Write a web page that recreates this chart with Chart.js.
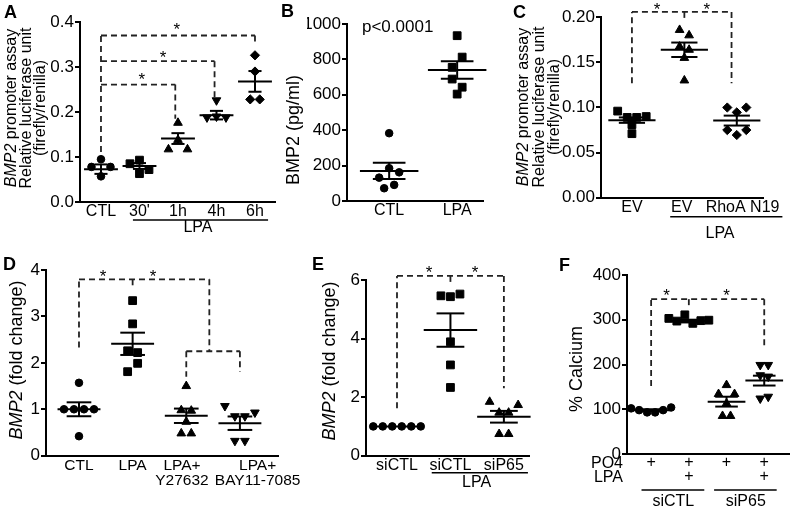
<!DOCTYPE html>
<html lang="en">
<head>
  <meta charset="UTF-8" />
  <title>LPA induces BMP2</title>
  <script src="https://cdn.jsdelivr.net/npm/chart.js"></script>
  <style>
    body { margin: 0; background: #fff; }
    #fig { position: relative; width: 796px; height: 510px; }
    #fig canvas { position: absolute; left: 0; top: 0; }
  </style>
</head>
<body>
  <div id="fig">
    <canvas id="panelA" width="796" height="510"></canvas>
    <canvas id="panelB" width="796" height="510"></canvas>
    <canvas id="panelC" width="796" height="510"></canvas>
    <canvas id="panelD" width="796" height="510"></canvas>
    <canvas id="panelE" width="796" height="510"></canvas>
    <canvas id="panelF" width="796" height="510"></canvas>
  </div>

  <script>
    const FONT = "'Liberation Sans', Arial, Helvetica, sans-serif";

    // A - BMP2 promoter assay, LPA time course
    const aLabels = ['CTL', "30'", '1h', '4h', '6h'];
    const aValues = [
      [0.078, 0.095, 0.078, 0.057],
      [0.085, 0.093, 0.072, 0.063],
      [0.176, 0.117, 0.138, 0.117],
      [0.226, 0.188, 0.190, 0.188],
      [0.326, 0.290, 0.228, 0.228]
    ];
    const aMean = [0.073, 0.080, 0.141, 0.193, 0.268];
    const aSem = [0.0105, 0.0065, 0.012, 0.0095, 0.023];
    const aTicks = [0, 0.1, 0.2, 0.3, 0.4];

    // B - secreted BMP2
    const bLabels = ['CTL', 'LPA'];
    const bValues = [
      [383, 132, 185, 162, 72, 91],
      [934, 755, 813, 689, 643, 604]
    ];
    const bMean = [170, 740];
    const bSem = [46, 50];
    const bTicks = [0, 200, 400, 600, 800, 1000];

    // C - promoter assay with RhoA N19
    const cLabels = ['EV', 'EV', 'RhoA N19'];
    const cValues = [
      [0.096, 0.089, 0.089, 0.090, 0.081, 0.071],
      [0.186, 0.180, 0.1675, 0.164, 0.155, 0.130],
      [0.100, 0.0946, 0.100, 0.075, 0.0695, 0.075]
    ];
    const cMean = [0.086, 0.164, 0.0855];
    const cSem = [0.003, 0.008, 0.0055];
    const cTicks = [0, 0.05, 0.10, 0.15, 0.20];

    // D - BMP2 mRNA with inhibitors
    const dLabels = ['CTL', 'LPA', ['LPA+', 'Y27632'], ['LPA+', 'BAY11-7085']];
    const dValues = [
      [1.57, 1.0, 1.0, 1.0, 1.0, 0.42],
      [3.34, 2.84, 2.26, 2.22, 1.81, 1.99],
      [1.50, 0.98, 0.73, 0.97, 0.48, 0.48],
      [1.07, 0.85, 0.85, 0.93, 0.32, 0.32]
    ];
    const dMean = [1.0, 2.41, 0.86, 0.70];
    const dSem = [0.15, 0.24, 0.155, 0.145];
    const dTicks = [0, 1, 2, 3, 4];

    // E - BMP2 mRNA with siP65
    const eLabels = ['siCTL', 'siCTL', 'siP65'];
    const eValues = [
      [1.0, 1.0, 1.0, 1.0, 1.0, 1.0],
      [5.46, 5.43, 5.52, 3.89, 3.10, 2.33],
      [1.84, 1.47, 1.47, 1.73, 0.74, 0.74]
    ];
    const eMean = [1.0, 4.29, 1.33];
    const eSem = [0, 0.57, 0.2];
    const eTicks = [0, 2, 4, 6];

    // F - calcium deposition
    const fLabels = [['+', ''], ['+', '+'], ['+', ''], ['+', '+']];
    const fValues = [
      [102, 98, 93, 93, 98, 104],
      [303, 297, 311, 292, 298, 299],
      [134, 154, 134, 113, 85, 85],
      [199, 199, 176, 173, 124, 128]
    ];
    const fMean = [98, 297, 117, 164];
    const fSem = [2, 3, 11, 11];
    const fTicks = [0, 100, 200, 300, 400];

    const MARKS = {
      circle: { pointStyle: 'circle', radius: 3.8, rotation: 0 },
      square: { pointStyle: 'rect', radius: 5.5, rotation: 0 },
      up: { pointStyle: 'triangle', radius: 5, rotation: 0 },
      down: { pointStyle: 'triangle', radius: 5, rotation: 180 },
      diamond: { pointStyle: 'rectRot', radius: 4.6, rotation: 0 }
    };

    function drawTitle(ctx, t) {
      t.lines.forEach((parts, li) => {
        ctx.save();
        ctx.translate(t.x[li], t.y);
        ctx.rotate(-Math.PI / 2);
        ctx.textBaseline = 'middle';
        ctx.textAlign = 'left';
        ctx.fillStyle = '#000';
        const fonts = parts.map(p => (p[1] ? 'italic ' : '') + t.size + 'px ' + FONT);
        let w = 0;
        parts.forEach((p, i) => { ctx.font = fonts[i]; w += ctx.measureText(p[0]).width; });
        let x = -w / 2;
        parts.forEach((p, i) => {
          ctx.font = fonts[i];
          ctx.fillText(p[0], x, 0);
          x += ctx.measureText(p[0]).width;
        });
        ctx.restore();
      });
    }

    function decor(cfg) {
      return {
        id: 'decor',
        afterDraw(chart) {
          const ctx = chart.ctx;
          const xs = chart.scales.x, ys = chart.scales.y;
          const X = v => xs.getPixelForValue(v);
          const Y = v => ys.getPixelForValue(v);
          const seg = (x1, y1, x2, y2) => {
            ctx.beginPath(); ctx.moveTo(x1, y1); ctx.lineTo(x2, y2); ctx.stroke();
          };
          ctx.save();

          // mean +/- SEM
          ctx.strokeStyle = '#000';
          ctx.lineWidth = 2;
          cfg.mean.forEach((m, i) => {
            const c = i + 1, s = cfg.sem[i];
            seg(X(c - cfg.meanHalf), Y(m), X(c + cfg.meanHalf), Y(m));
            if (s > 0) {
              seg(X(c - cfg.semHalf), Y(m + s), X(c + cfg.semHalf), Y(m + s));
              seg(X(c - cfg.semHalf), Y(m - s), X(c + cfg.semHalf), Y(m - s));
              seg(X(c), Y(m + s), X(c), Y(m - s));
            }
          });

          // significance brackets
          ctx.lineWidth = 1.8;
          ctx.strokeStyle = '#222';
          ctx.setLineDash([6, 4]);
          (cfg.brackets || []).forEach(b => seg(X(b[0]), Y(b[1]), X(b[2]), Y(b[3])));
          ctx.setLineDash([]);

          ctx.fillStyle = '#000';
          ctx.font = '17px ' + FONT;
          ctx.textAlign = 'center';
          ctx.textBaseline = 'alphabetic';
          (cfg.stars || []).forEach(s => ctx.fillText('*', X(s[0]), Y(s[1]) + 9.8));

          // group underlines under the category labels
          ctx.font = '16px ' + FONT;
          ctx.textBaseline = 'middle';
          ctx.lineWidth = 1.5;
          ctx.strokeStyle = '#000';
          (cfg.groups || []).forEach(g => {
            seg(X(g.from), ys.bottom + g.dy, X(g.to), ys.bottom + g.dy);
            ctx.fillText(g.label, X(g.at), ys.bottom + g.labelDy);
          });

          ctx.textAlign = 'right';
          (cfg.rowLabels || []).forEach(r => ctx.fillText(r.t, xs.left - 4, ys.bottom + r.dy));

          ctx.textAlign = 'left';
          ctx.font = '17px ' + FONT;
          (cfg.texts || []).forEach(t => ctx.fillText(t.t, X(t.x), Y(t.y)));

          drawTitle(ctx, cfg.title);

          ctx.font = 'bold 18px ' + FONT;
          ctx.textAlign = 'left';
          ctx.textBaseline = 'alphabetic';
          ctx.fillText(cfg.letter[0], cfg.letter[1], cfg.letter[2]);
          ctx.restore();
        }
      };
    }

    // spread points that sit at nearly the same height side by side
    function swarm(chart, cfg) {
      const xs = chart.scales.x, ys = chart.scales.y;
      const unit = xs.getPixelForValue(2) - xs.getPixelForValue(1);
      chart.data.datasets.forEach((ds, gi) => {
        const vals = cfg.values[gi];
        const order = vals.map((v, i) => i).sort((a, b) => vals[b] - vals[a]);
        const rows = [];
        order.forEach(i => {
          const py = ys.getPixelForValue(vals[i]);
          const row = rows[rows.length - 1];
          if (row && py - row.top < cfg.gap) row.items.push(i);
          else rows.push({ top: py, items: [i] });
        });
        rows.forEach(r => {
          r.items.sort((a, b) => a - b);
          r.items.forEach((i, k) => {
            ds.data[i].x = gi + 1 + (k - (r.items.length - 1) / 2) * cfg.step / unit;
          });
        });
      });
      chart.update('none');
    }

    function makePanel(id, cfg) {
      const a = cfg.area;
      const chart = new Chart(document.getElementById(id), {
        type: 'scatter',
        data: {
          datasets: cfg.values.map((vals, gi) => {
            const mk = MARKS[cfg.marks[gi]];
            return {
              data: vals.map(v => ({ x: gi + 1, y: v })),
              pointStyle: mk.pointStyle,
              rotation: mk.rotation,
              pointRadius: mk.radius,
              backgroundColor: '#000',
              borderColor: '#000',
              borderWidth: 1
            };
          })
        },
        options: {
          responsive: false,
          animation: false,
          events: [],
          layout: {
            padding: { left: a.left - 40, right: 796 - a.right, top: a.top, bottom: 510 - a.bottom - 30 }
          },
          scales: {
            x: {
              type: 'linear',
              min: cfg.xMin,
              max: cfg.xMax,
              afterFit: s => { s.height = 30; },
              afterBuildTicks: s => {
                s.ticks = cfg.labels.map((l, i) => ({ value: i + 1 + (cfg.labelShift ? cfg.labelShift[i] : 0) }));
              },
              ticks: {
                autoSkip: false,
                maxRotation: 0,
                minRotation: 0,
                padding: cfg.xPad,
                color: '#000',
                font: { family: FONT, size: cfg.xSize || 16, lineHeight: cfg.xLine },
                callback: (v, i) => cfg.labels[i]
              },
              grid: { display: false, drawTicks: false },
              border: { display: true, color: '#000', width: 2 }
            },
            y: {
              min: cfg.yTicks[0],
              max: cfg.yTicks[cfg.yTicks.length - 1],
              afterFit: s => { s.width = 40; },
              afterBuildTicks: s => { s.ticks = cfg.yTicks.map(v => ({ value: v })); },
              ticks: {
                padding: 1,
                color: '#000',
                font: { family: FONT, size: 17 },
                callback: v => v.toFixed(cfg.dec)
              },
              grid: { display: true, drawOnChartArea: false, drawTicks: true, tickLength: 5, color: '#000', lineWidth: 2 },
              border: { display: true, color: '#000', width: 2 }
            }
          },
          plugins: { legend: { display: false }, tooltip: { enabled: false } }
        },
        plugins: [decor(cfg)]
      });
      swarm(chart, cfg);
      return chart;
    }

    makePanel('panelA', {
      labels: aLabels, values: aValues, mean: aMean, sem: aSem, yTicks: aTicks, dec: 1,
      marks: ['circle', 'square', 'up', 'down', 'diamond'],
      area: { left: 80, right: 275, top: 22, bottom: 202 },
      xMin: 0.455, xMax: 5.52, xPad: 2, xLine: 1.0,
      meanHalf: 0.44, semHalf: 0.17, gap: 10, step: 9.5,
      brackets: [[1, 0.111, 1, 0.37], [1, 0.37, 5, 0.37], [5, 0.37, 5, 0.35],
                 [1, 0.313, 3.95, 0.313], [3.95, 0.313, 3.95, 0.233],
                 [1, 0.261, 2.93, 0.261], [2.93, 0.261, 2.93, 0.185]],
      stars: [[2.97, 0.393], [2.61, 0.331], [2.06, 0.282]],
      groups: [{ from: 1.83, to: 5.34, dy: 18, label: 'LPA', at: 3.52, labelDy: 26 }],
      title: { size: 16, x: [12, 26.5, 41], y: 108, lines: [[['BMP2', true], [' promoter assay', false]], [['Relative luciferase unit', false]], [['(firefly/renilla)', false]]] },
      letter: ['A', 4, 18]
    });

    makePanel('panelB', {
      labels: bLabels, values: bValues, mean: bMean, sem: bSem, yTicks: bTicks, dec: 0,
      marks: ['circle', 'square'],
      area: { left: 347, right: 483, top: 24, bottom: 201 },
      xMin: 0.38, xMax: 2.38, xPad: 2, xLine: 1.0,
      meanHalf: 0.43, semHalf: 0.24, gap: 11, step: 10,
      texts: [{ t: 'p<0.0001', x: 0.6, y: 983 }],
      title: { size: 18, x: [294], y: 130, lines: [[['BMP2 (pg/ml)', false]]] },
      letter: ['B', 281, 17]
    });

    makePanel('panelC', {
      labels: cLabels, values: cValues, mean: cMean, sem: cSem, yTicks: cTicks, dec: 2,
      marks: ['square', 'up', 'diamond'],
      area: { left: 601, right: 763, top: 17.3, bottom: 197.7 },
      xMin: 0.41, xMax: 3.5, xPad: 2, xLine: 1.0, labelShift: [0, -0.05, 0.11],
      meanHalf: 0.45, semHalf: 0.25, gap: 9, step: 9.5,
      brackets: [[1, 0.127, 1, 0.206], [1, 0.206, 2.9, 0.206], [2, 0.206, 2, 0.195], [2.9, 0.206, 2.9, 0.127]],
      stars: [[1.48, 0.2135], [2.43, 0.2135]],
      groups: [{ from: 1.73, to: 3.87, dy: 19, label: 'LPA', at: 2.68, labelDy: 36 }],
      title: { size: 16, x: [524, 539.5, 555], y: 107, lines: [[['BMP2', true], [' promoter assay', false]], [['Relative luciferase unit', false]], [['(firefly/renilla)', false]]] },
      letter: ['C', 513, 18]
    });

    makePanel('panelD', {
      labels: dLabels, values: dValues, mean: dMean, sem: dSem, yTicks: dTicks, dec: 0,
      marks: ['circle', 'square', 'up', 'down'],
      area: { left: 46, right: 278, top: 270, bottom: 455.7 },
      xMin: 0.385, xMax: 4.71, xPad: 2, xLine: 1.0, xSize: 15.5, labelShift: [0, 0, -0.08, 0.33],
      meanHalf: 0.4, semHalf: 0.23, gap: 11, step: 10,
      brackets: [[1, 2.33, 1, 3.80], [1, 3.80, 3.43, 3.80], [2, 3.80, 2, 3.64], [3.43, 3.80, 3.43, 2.25],
                 [3, 2.25, 4, 2.25], [3, 2.25, 3, 1.70], [4, 2.25, 4, 1.81]],
      stars: [[1.45, 3.96], [2.38, 3.96]],
      title: { size: 18, x: [17], y: 360, lines: [[['BMP2', true], [' (fold change)', false]]] },
      letter: ['D', 3, 270]
    });

    makePanel('panelE', {
      labels: eLabels, values: eValues, mean: eMean, sem: eSem, yTicks: eTicks, dec: 0,
      marks: ['circle', 'square', 'up'],
      area: { left: 366, right: 529, top: 280, bottom: 455.7 },
      xMin: 0.42, xMax: 3.47, xPad: 2, xLine: 1.0,
      meanHalf: 0.5, semHalf: 0.26, gap: 11, step: 9.5,
      brackets: [[1, 1.62, 1, 6.14], [1, 6.14, 3, 6.14], [2, 6.14, 2, 5.89], [3, 6.14, 3, 2.30]],
      stars: [[1.6, 6.41], [2.46, 6.41]],
      groups: [{ from: 1.65, to: 3.45, dy: 17, label: 'LPA', at: 2.49, labelDy: 27 }],
      title: { size: 18, x: [330], y: 361, lines: [[['BMP2', true], [' (fold change)', false]]] },
      letter: ['E', 312, 270]
    });

    makePanel('panelF', {
      labels: fLabels, values: fValues, mean: fMean, sem: fSem, yTicks: fTicks, dec: 0,
      marks: ['circle', 'square', 'up', 'down'],
      area: { left: 627, right: 795, top: 275, bottom: 454 },
      xMin: 0.36, xMax: 4.67, xPad: 2, xLine: 0.875,
      meanHalf: 0.5, semHalf: 0.3, gap: 10, step: 8,
      brackets: [[1, 152, 1, 346], [1, 346, 4, 346], [2, 346, 2, 329], [4, 346, 4, 236]],
      stars: [[1.41, 363], [3.0, 363]],
      groups: [{ from: 0.745, to: 2.41, dy: 36, label: 'siCTL', at: 1.59, labelDy: 48 },
               { from: 2.67, to: 4.33, dy: 36, label: 'siP65', at: 3.51, labelDy: 48 }],
      rowLabels: [{ t: 'PO4', dy: 10 }, { t: 'LPA', dy: 24 }],
      title: { size: 18, x: [577], y: 369, lines: [[['% Calcium', false]]] },
      letter: ['F', 559, 271]
    });
  </script>
</body>
</html>
